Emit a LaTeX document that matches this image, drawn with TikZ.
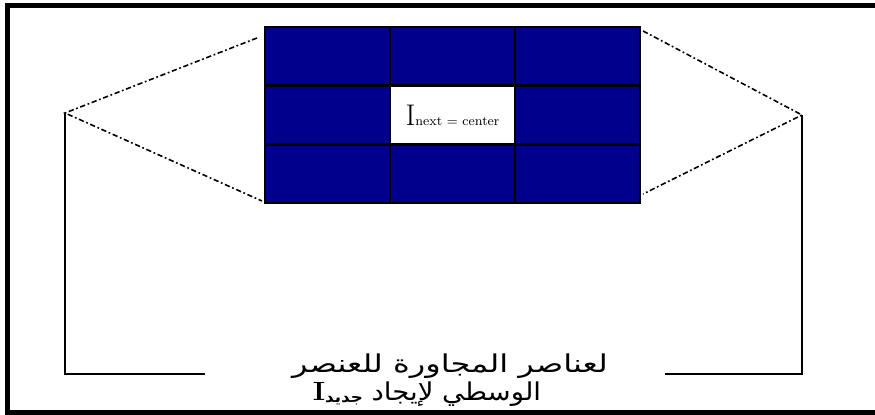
\documentclass[tikz,border=0pt]{standalone}
\usepackage{fontspec}
\newfontfamily\arabicfont[Script=Arabic]{DejaVu Sans}
\TeXXeTstate=1
\usetikzlibrary{arrows.meta,positioning,calc}

\definecolor{cellblue}{RGB}{0,0,140}

\begin{document}
\begin{tikzpicture}[x=0.02cm,y=-0.02cm,font=\small]
\tikzstyle{cell}=[draw=black,line width=1.2pt,fill=cellblue,minimum width=2.5cm,minimum height=1.17cm,inner sep=0pt]
\tikzstyle{frame}=[line width=2.8pt]
\tikzstyle{link}=[line width=0.9pt,dash pattern=on 3pt off 1.5pt on 1pt off 1.5pt]
\tikzstyle{leg}=[line width=1.1pt]
\tikzstyle{caption}=[font=\arabicfont\fontsize{14}{16}\selectfont,inner sep=0pt]
\useasboundingbox (0,0) rectangle (875,415);
% outer frame
\draw[frame] (875,5.5) -- (7.5,5.5) -- (7.5,412.5) -- (875,412.5);
% 3x3 neighbourhood
\foreach \r in {0,1,2} {
  \foreach \c in {0,1,2} {
    \node[cell] (c\r\c) at ({327.5+\c*125},{56.3+\r*58.7}) {};
  }
}
\node[cell,fill=white] (ctr) at (c11) {{\fontsize{17}{18}\selectfont I}\raisebox{0pt}{\fontsize{7.5}{9}\selectfont next = center}};
% apexes and legs
\coordinate (apL) at (65,113);
\coordinate (apR) at (802,115);
\coordinate (ftL) at (65,374);
\coordinate (ftR) at (802,374);
\coordinate (enL) at (205,374);
\coordinate (enR) at (665,374);
\draw[link] ($(c00.north west)+(-7,12)$) -- (apL) -- ($(c20.south west)+(-2,-3)$);
\draw[link] ($(c02.north east)+(2,5)$) -- (apR) -- ($(c22.south east)+(2,-10)$);
\draw[leg] (apL) -- (ftL) -- (enL);
\draw[leg] (apR) -- (ftR) -- (enR);
% caption
\node[caption] (cap1) at (450,366) {\scalebox{1.3}[1]{\beginR لعناصر المجاورة للعنصر\endR}};
\node[caption] (cap2) at (427,394) {\scalebox{1.12}[1]{\beginR الوسطي لإيجاد \beginL{\rmfamily\bfseries\fontsize{15}{16}\selectfont I}\raisebox{-1pt}{\fontsize{8.5}{9}\selectfont\bfseries جديد}\endL\endR}};
\end{tikzpicture}
\end{document}
